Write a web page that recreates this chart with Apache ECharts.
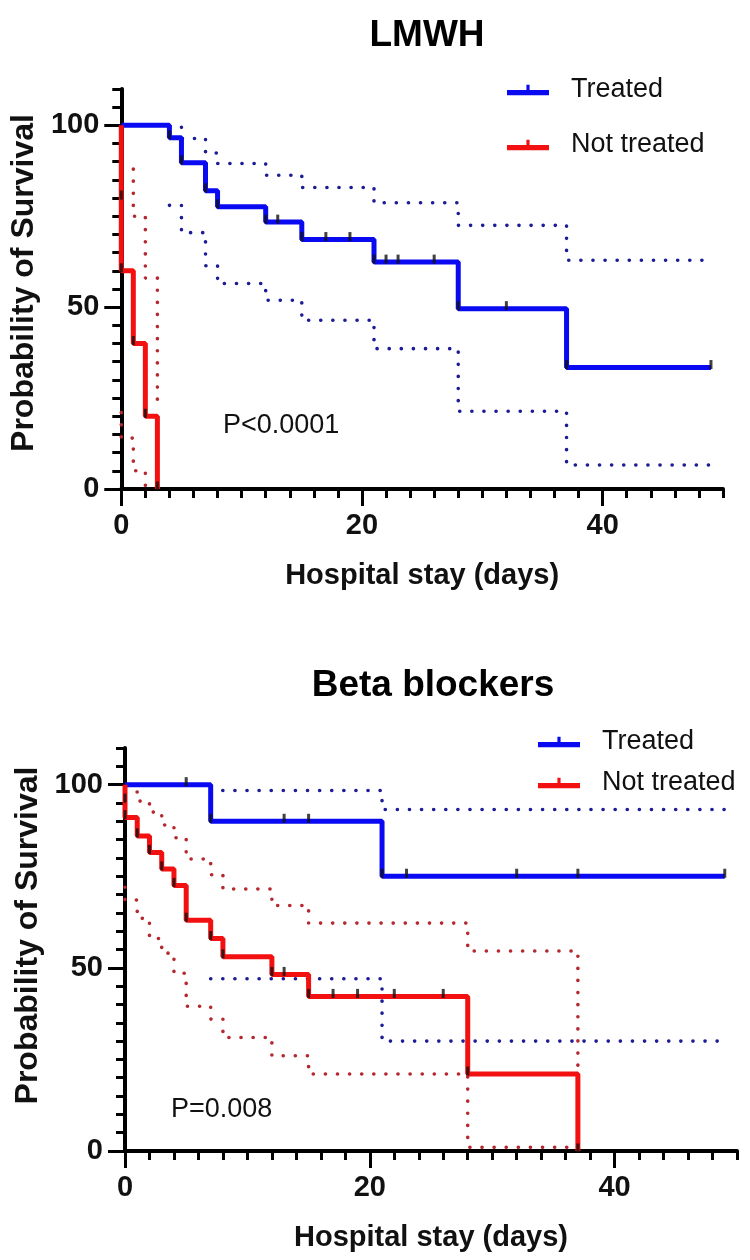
<!DOCTYPE html>
<html><head><meta charset="utf-8">
<script src="https://cdn.jsdelivr.net/npm/echarts@6/dist/echarts.min.js"></script>
<style>html,body{margin:0;padding:0;background:#fff}#c{width:750px;height:1260px}</style>
</head><body><div id="c"></div>
<script>
// ---------- tick labels / axis ticks ----------
var xMajorTicks = [0, 20, 40];
var xMinorTicks = [2,4,6,8,10,12,14,16,18,22,24,26,28,30,32,34,36,38,42,44,46,48,50];
var yMajorTicks = [0, 50, 100];
var yMinorTicks = [5,10,15,20,25,30,35,40,45,55,60,65,70,75,80,85,90,95,105,110];
var groups = ['Treated', 'Not treated'];

// ---------- LMWH (top) ----------
var lmwhTreatedTime = [0, 4, 5, 7, 8, 12, 15, 21, 28, 37, 49];
var lmwhTreatedSurv = [100, 96.6, 89.7, 82, 77.6, 73.4, 68.6, 62.4, 49.6, 33.4, 33.4];
var lmwhTreatedUpperTime = [4, 5, 7, 8, 12, 15, 21, 28, 37, 49];
var lmwhTreatedUpper = [99.5, 96.4, 92.4, 89.5, 86.3, 82.9, 78.7, 72.5, 62.9, 62.9];
var lmwhTreatedLowerTime = [4, 5, 7, 8, 12, 15, 21, 28, 37, 49];
var lmwhTreatedLower = [78, 70.5, 61.4, 56.5, 51.9, 46.4, 38.6, 21.4, 6.6, 6.6];
var lmwhTreatedCensorTime = [4, 5, 7, 8, 12, 13, 15, 17, 19, 21, 22, 23, 26, 28, 32, 37, 49];
var lmwhTreatedCensorSurv = [96.6, 89.7, 82, 77.6, 73.4, 73.4, 68.6, 68.6, 68.6, 62.4, 62.4, 62.4, 62.4, 49.6, 49.6, 33.4, 33.4];

var lmwhNotTime = [0, 0, 0, 1, 2, 3];
var lmwhNotSurv = [100, 80, 60, 40, 20, 0];
var lmwhNotUpperTime = [0, 1, 2, 3];
var lmwhNotUpper = [88, 75, 58, 23];
var lmwhNotLowerTime = [0, 0, 1, 2, 3];
var lmwhNotLower = [21, 14, 5, 1, 0];
var lmwhNotCensorTime = [0, 0, 1, 2, 3];
var lmwhNotCensorSurv = [80, 60, 40, 20, 0];
var lmwhP = 'P<0.0001';

// ---------- Beta blockers (bottom) ----------
var bbTreatedTime = [0, 7, 21, 49];
var bbTreatedSurv = [100, 90, 75, 75];
var bbTreatedUpperTime = [7, 21, 49];
var bbTreatedUpper = [98.4, 93.2, 93.2];
var bbTreatedLowerTime = [7, 21, 49];
var bbTreatedLower = [47, 30, 30];
var bbTreatedCensorTime = [5, 7, 13, 15, 21, 23, 32, 37, 49];
var bbTreatedCensorSurv = [100, 90, 90, 90, 75, 75, 75, 75, 75];

var bbNotTime = [0, 0, 0, 1, 2, 3, 4, 5, 7, 8, 12, 15, 28, 37];
var bbNotSurv = [100, 95.5, 91, 86, 81.5, 77, 72.5, 63, 58, 53, 48.2, 42.2, 21, 0];
var bbNotUpperTime = [0, 1, 2, 3, 4, 5, 7, 8, 12, 15, 28, 37];
var bbNotUpper = [98, 95.5, 92.5, 89, 85.5, 79.7, 75.4, 71.5, 67, 62.2, 54.6, 0];
var bbNotLowerTime = [0, 0, 1, 2, 3, 4, 5, 7, 8, 12, 15, 28, 37];
var bbNotLower = [72, 68.5, 63.5, 58, 54, 48.5, 39.5, 36, 31, 26, 21, 1, 1];
var bbNotCensorTime = [0, 0, 1, 2, 3, 4, 5, 7, 8, 12, 13, 15, 17, 19, 22, 26, 28, 37];
var bbNotCensorSurv = [95.5, 91, 86, 81.5, 77, 72.5, 63, 58, 53, 48.2, 48.2, 42.2, 42.2, 42.2, 42.2, 42.2, 21, 0];
var bbP = 'P=0.008';

// ---------- styling ----------
var FONT = "'Liberation Sans', Arial, sans-serif";
var BLUE = '#0a0af2', RED = '#f21010', CI_BLUE = '#1c1c96', CI_RED = '#b52830';

function pairs(t, v) { return t.map(function (x, i) { return [x, v[i]]; }); }

function mainLine(name, t, v, color, g) {
  return { name: name, type: 'line', step: 'end', xAxisIndex: g * 2, yAxisIndex: g * 2,
    data: pairs(t, v), symbol: 'none', clip: false, color: color,
    lineStyle: { color: color, width: 5 }, z: 3, animation: false };
}
function ciLine(name, t, v, color, g) {
  return { name: name, type: 'line', step: 'end', xAxisIndex: g * 2, yAxisIndex: g * 2,
    data: pairs(t, v), symbol: 'none', clip: false,
    lineStyle: { color: color, width: 3.6, type: [0.1, 12], cap: 'round' }, z: 2, animation: false };
}
function censor(name, t, v, g) {
  return { name: name, type: 'scatter', xAxisIndex: g * 2, yAxisIndex: g * 2,
    data: pairs(t, v), symbol: 'rect', symbolSize: [3, 9], symbolOffset: [0, -3],
    itemStyle: { color: '#111' }, z: 4, animation: false, silent: true };
}

function axesFor(g, nameSize, namePad) {
  var xs = [
    { type: 'value', gridIndex: g, min: 0, max: 50, position: 'bottom',
      axisLine: { lineStyle: { color: '#000', width: 4 } },
      axisTick: { customValues: xMajorTicks, length: 17, lineStyle: { color: '#000', width: 3 } },
      axisLabel: { customValues: xMajorTicks, fontSize: 29, fontWeight: 'bold', color: '#111', fontFamily: FONT, margin: 22 },
      splitLine: { show: false },
      name: 'Hospital stay (days)', nameLocation: 'middle', nameGap: 72,
      nameTextStyle: { fontSize: 29, fontWeight: 'bold', color: '#111', fontFamily: FONT } },
    { type: 'value', gridIndex: g, min: 0, max: 50, position: 'bottom',
      axisLine: { show: false },
      axisTick: { customValues: xMinorTicks, length: 9, lineStyle: { color: '#000', width: 3 } },
      axisLabel: { show: false }, splitLine: { show: false } }
  ];
  var ys = [
    { type: 'value', gridIndex: g, min: 0, max: 110, position: 'left',
      axisLine: { show: true, lineStyle: { color: '#000', width: 4 } },
      axisTick: { show: true, customValues: yMajorTicks, length: 17, lineStyle: { color: '#000', width: 3 } },
      axisLabel: { customValues: yMajorTicks, fontSize: 29, fontWeight: 'bold', color: '#111', fontFamily: FONT, margin: 22 },
      splitLine: { show: false },
      name: 'Probability of Survival', nameLocation: 'middle', nameGap: 80,
      nameTextStyle: { fontSize: nameSize, fontWeight: 'bold', color: '#111', fontFamily: FONT, padding: [0, 0, 0, namePad] } },
    { type: 'value', gridIndex: g, min: 0, max: 110, position: 'left',
      axisLine: { show: false },
      axisTick: { show: true, customValues: yMinorTicks, length: 9, lineStyle: { color: '#000', width: 3 } },
      axisLabel: { show: false }, splitLine: { show: false } }
  ];
  return { xs: xs, ys: ys };
}
var a0 = axesFor(0, 32, 12), a1 = axesFor(1, 32, 28);

var legendIcon = 'path://M0,5h40v5H0z M18.5,0h3v6h-3z';
function legendFor(left, top, gap) {
  return { data: groups, orient: 'vertical', left: left, top: top, itemWidth: 42, itemHeight: 11,
    itemGap: gap, icon: legendIcon, selectedMode: false,
    textStyle: { fontSize: 27, color: '#111', fontFamily: FONT, lineHeight: 30, padding: [0, 0, 0, 17] } };
}

var option = {
  backgroundColor: '#fff',
  animation: false,
  title: [
    { text: 'LMWH', left: 422, top: 12, textAlign: 'center',
      textStyle: { fontSize: 37, fontWeight: 'bold', color: '#000', fontFamily: FONT } },
    { text: 'Beta blockers', left: 428, top: 662, textAlign: 'center',
      textStyle: { fontSize: 37, fontWeight: 'bold', color: '#000', fontFamily: FONT } }
  ],
  legend: [legendFor(502, 70, 25), legendFor(533, 722, 11)],
  grid: [
    { left: 118, top: 89, width: 605, height: 400 },
    { left: 125, top: 748, width: 612, height: 403 }
  ],
  xAxis: a0.xs.concat(a1.xs),
  yAxis: a0.ys.concat(a1.ys),
  graphic: [
    { type: 'text', left: 223, top: 412, style: { text: lmwhP, fontSize: 27, fill: '#111', fontFamily: FONT } },
    { type: 'text', left: 171, top: 1096, style: { text: bbP, fontSize: 27, fill: '#111', fontFamily: FONT } }
  ],
  series: [
    ciLine('lmwh treated upper', lmwhTreatedUpperTime, lmwhTreatedUpper, CI_BLUE, 0),
    ciLine('lmwh treated lower', lmwhTreatedLowerTime, lmwhTreatedLower, CI_BLUE, 0),
    ciLine('lmwh not upper', lmwhNotUpperTime, lmwhNotUpper, CI_RED, 0),
    ciLine('lmwh not lower', lmwhNotLowerTime, lmwhNotLower, CI_RED, 0),
    mainLine('Treated', lmwhTreatedTime, lmwhTreatedSurv, BLUE, 0),
    mainLine('Not treated', lmwhNotTime, lmwhNotSurv, RED, 0),
    censor('lmwh treated censor', lmwhTreatedCensorTime, lmwhTreatedCensorSurv, 0),
    censor('lmwh not censor', lmwhNotCensorTime, lmwhNotCensorSurv, 0),

    ciLine('bb treated upper', bbTreatedUpperTime, bbTreatedUpper, CI_BLUE, 1),
    ciLine('bb treated lower', bbTreatedLowerTime, bbTreatedLower, CI_BLUE, 1),
    ciLine('bb not upper', bbNotUpperTime, bbNotUpper, CI_RED, 1),
    ciLine('bb not lower', bbNotLowerTime, bbNotLower, CI_RED, 1),
    mainLine('Treated', bbTreatedTime, bbTreatedSurv, BLUE, 1),
    mainLine('Not treated', bbNotTime, bbNotSurv, RED, 1),
    censor('bb treated censor', bbTreatedCensorTime, bbTreatedCensorSurv, 1),
    censor('bb not censor', bbNotCensorTime, bbNotCensorSurv, 1)
  ]
};
var chart = echarts.init(document.getElementById('c'), null, { renderer: 'canvas' });
chart.setOption(option);
</script></body></html>
